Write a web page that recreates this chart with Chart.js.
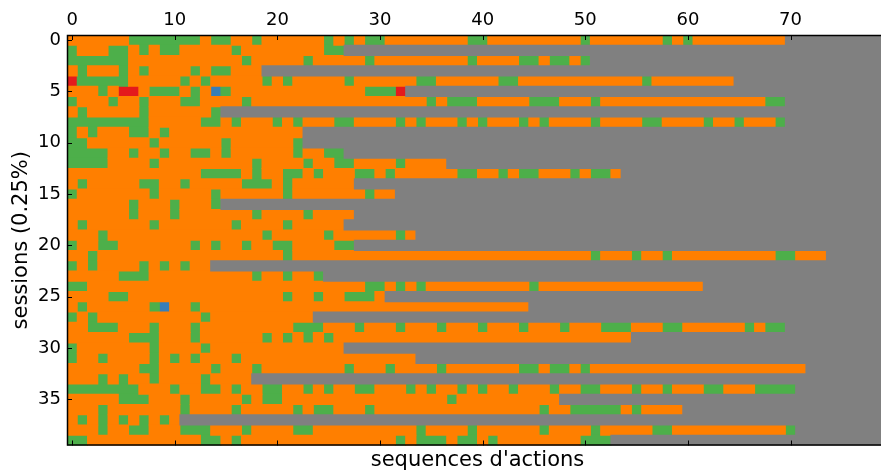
<!DOCTYPE html>
<html>
<head>
<meta charset="utf-8">
<script src="https://cdn.jsdelivr.net/npm/chart.js@4.4.0/dist/chart.umd.min.js"></script>
<style>
  html, body { margin: 0; padding: 0; background: #fff; overflow: hidden; }
  #wrap { width: 890px; height: 473px; }
</style>
</head>
<body>
<div id="wrap"><canvas id="seq"></canvas></div>
<script>
// one string per session, one letter per action, grouped by ten
// o / g / r / b = action type; anything past the end of a string is padding
const sessions = [
  "oooooogggg gggoggoogo ooooogogog goooooooog gooooooooo gooooooogo gooooooooo",
  "goooggogog gooooogooo ooooogg",
  "ggggggoooo ooooooogoo ooogooooog ooooooooog ooooggoggo g",
  "ogooogogoo oogoggooo",
  "rgggggoooo ogogooooog ogooooogoo ooooggoooo ooggoooooo oooooogooo ooooo",
  "ooogorrogg gogobgoooo ooooooooog ggr",
  "gooogoogoo oggoooogoo oooooooooo ooooogoggg ooooogggoo ogoooooooo oooooooogg",
  "ogooooogoo oooog",
  "ggggggggoo oooggogooo gogoooggoo oogogooogo gooogogooo ogooooggoo oogoogooog",
  "gogoooggog oooooooooo ooo",
  "ggoooooogo ooooogoooo oog",
  "ggggoogoog ooggogoooo oogoogg",
  "ggggoooogo oooooooogo ooogooggoo oogoooo",
  "oooooooooo oooggggogo oggogooogg ogoooooogg oogoggooog oggo",
  "ogoooooggo ogoooooggg ogoooooo",
  "gooooooogo oooogooooo ogooooooog oo",
  "oooooogooo gooog",
  "oooooogooo gooooooogo ooogoooo",
  "ogoooooogo oooooogooo ogooooo",
  "ooogoooooo ooooooooog ooooogoooo oogo",
  "googgooooo oogogoogoo ggoooogg",
  "oogooooooo oooooooooo ogoooooooo oooooooooo oooooooooo ogooogoogo ooooooooog gooo",
  "gogoooogog ogoo",
  "ooooogggoo oooooooogo ogoog",
  "ggoooooooo oooooooooo ooooooooog gogogooooo ooooogoooo oooooooooo oo",
  "ooooggoooo oooooooooo ogoogooggg o",
  "ogoooooogb oogooooooo oooooooooo oooooooooo ooooo",
  "gogooooooo ooogoooooo oooo",
  "oogggooogo oogooooooo oogggooogo oogooogooo gooogooogo oogggooogg oooooogogg",
  "oooooogggo oogoooooog ogogogoooo oooooooooo oooooooooo ooooo",
  "gooooooogo ooogoooooo ooooooo",
  "googoooogo gogooogooo oooooooooo oooo",
  "oooooooggo oooogooogo ooooooogoo ogoooogooo ooooggoggo gooooooooo oooooooooo oo",
  "ooogogoogo ooogoooo",
  "gggggggooo googgogoog googogoogg ooogogoogo googooogoo ggooogoogo ooggoooggg g",
  "ooooogggoo ogooooogog gooooooooo ooooooogoo oooooooo",
  "ooogoooooo ogoooogooo oogoggooog oooooooooo oooooogoog ggggogoooo",
  "ogogogogog o",
  "ooogooggoo ogggooogoo ooggoooooo oooogoooog oooooogooo ogoooooggo oooooooooo g",
  "ggoooooooo oooggogooo oooooooooo oogogggogg ogoooooooo ggg"
];

const actionTypes = ['o', 'g', 'r', 'b'];
const actionColors = ['#ff7f00', '#4daf4a', '#e41a1c', '#377eb8'];
const padColor = '#808080';
const nActions = 80;

const xTicks = [0, 10, 20, 30, 40, 50, 60, 70];
const yTicks = [0, 5, 10, 15, 20, 25, 30, 35];

const seqs = sessions.map(s => s.replace(/ /g, ''));

// consecutive cells of the same action become one floating bar
function segments(code) {
  const out = [];
  seqs.forEach((s, row) => {
    let i = 0;
    while (i < s.length) {
      let j = i;
      while (j < s.length && s[j] === s[i]) j++;
      if (s[i] === code) out.push({ y: row, x: [i - 0.5, j - 0.5] });
      i = j;
    }
  });
  return out;
}

const padding = seqs.map((s, row) => ({ y: row, x: [s.length - 0.5, nActions - 0.5] }));

const datasets = [{ label: 'pad', data: padding, backgroundColor: padColor }];
actionTypes.forEach((code, k) => {
  datasets.push({ label: code, data: segments(code), backgroundColor: actionColors[k] });
});

const font = { family: 'DejaVu Sans', size: 18 };
const titleFont = { family: 'DejaVu Sans', size: 21 };

// black box and inward ticks on every side
const frame = {
  id: 'frame',
  afterDatasetsDraw(chart) {
    const { ctx, chartArea: a, scales } = chart;
    ctx.save();
    ctx.strokeStyle = '#000';
    ctx.lineWidth = 1.5;
    ctx.strokeRect(a.left + 0.5, a.top + 0.5, a.right - a.left - 1, a.bottom - a.top - 1);
    ctx.lineWidth = 1;
    ctx.beginPath();
    xTicks.forEach(v => {
      const px = Math.round(scales.x.getPixelForValue(v)) + 0.5;
      ctx.moveTo(px, a.top); ctx.lineTo(px, a.top + 5);
      ctx.moveTo(px, a.bottom); ctx.lineTo(px, a.bottom - 5);
    });
    yTicks.forEach(v => {
      const py = Math.round(scales.y.getPixelForValue(v)) + 0.5;
      ctx.moveTo(a.left, py); ctx.lineTo(a.left + 5, py);
      ctx.moveTo(a.right, py); ctx.lineTo(a.right - 5, py);
    });
    ctx.stroke();
    ctx.restore();
  }
};

new Chart(document.getElementById('seq'), {
  type: 'bar',
  data: { datasets },
  plugins: [frame],
  options: {
    indexAxis: 'y',
    responsive: true,
    maintainAspectRatio: false,
    animation: false,
    events: [],
    layout: { padding: { right: 2 } },
    datasets: {
      bar: { grouped: false, barPercentage: 1, categoryPercentage: 1, borderWidth: 0, inflateAmount: 0.5 }
    },
    plugins: { legend: { display: false }, tooltip: { enabled: false } },
    scales: {
      x: {
        type: 'linear',
        position: 'top',
        min: -0.5,
        max: nActions - 0.5,
        afterBuildTicks: s => { s.ticks = xTicks.map(v => ({ value: v })); },
        afterFit: s => { s.height = 35; },
        grid: { display: false, drawTicks: false },
        border: { display: false },
        ticks: { color: '#000', font, padding: 4, maxRotation: 0 }
      },
      xb: {
        type: 'linear',
        position: 'bottom',
        min: -0.5,
        max: nActions - 0.5,
        afterFit: s => { s.height = 27.5; },
        grid: { display: false, drawTicks: false },
        border: { display: false },
        ticks: { display: false },
        title: { display: true, text: "sequences d'actions", color: '#000', font: titleFont, padding: 0 }
      },
      y: {
        type: 'linear',
        reverse: true,
        offset: false,
        min: -0.5,
        max: seqs.length - 0.5,
        afterBuildTicks: s => { s.ticks = yTicks.map(v => ({ value: v })); },
        afterFit: s => { s.width = 67; },
        grid: { display: false, drawTicks: false, offset: false },
        border: { display: false },
        ticks: { color: '#000', font, padding: 6 },
        title: { display: true, text: 'sessions (0.25%)', color: '#000', font: titleFont, padding: { top: 9, bottom: 0 } }
      }
    }
  }
});
</script>
</body>
</html>
